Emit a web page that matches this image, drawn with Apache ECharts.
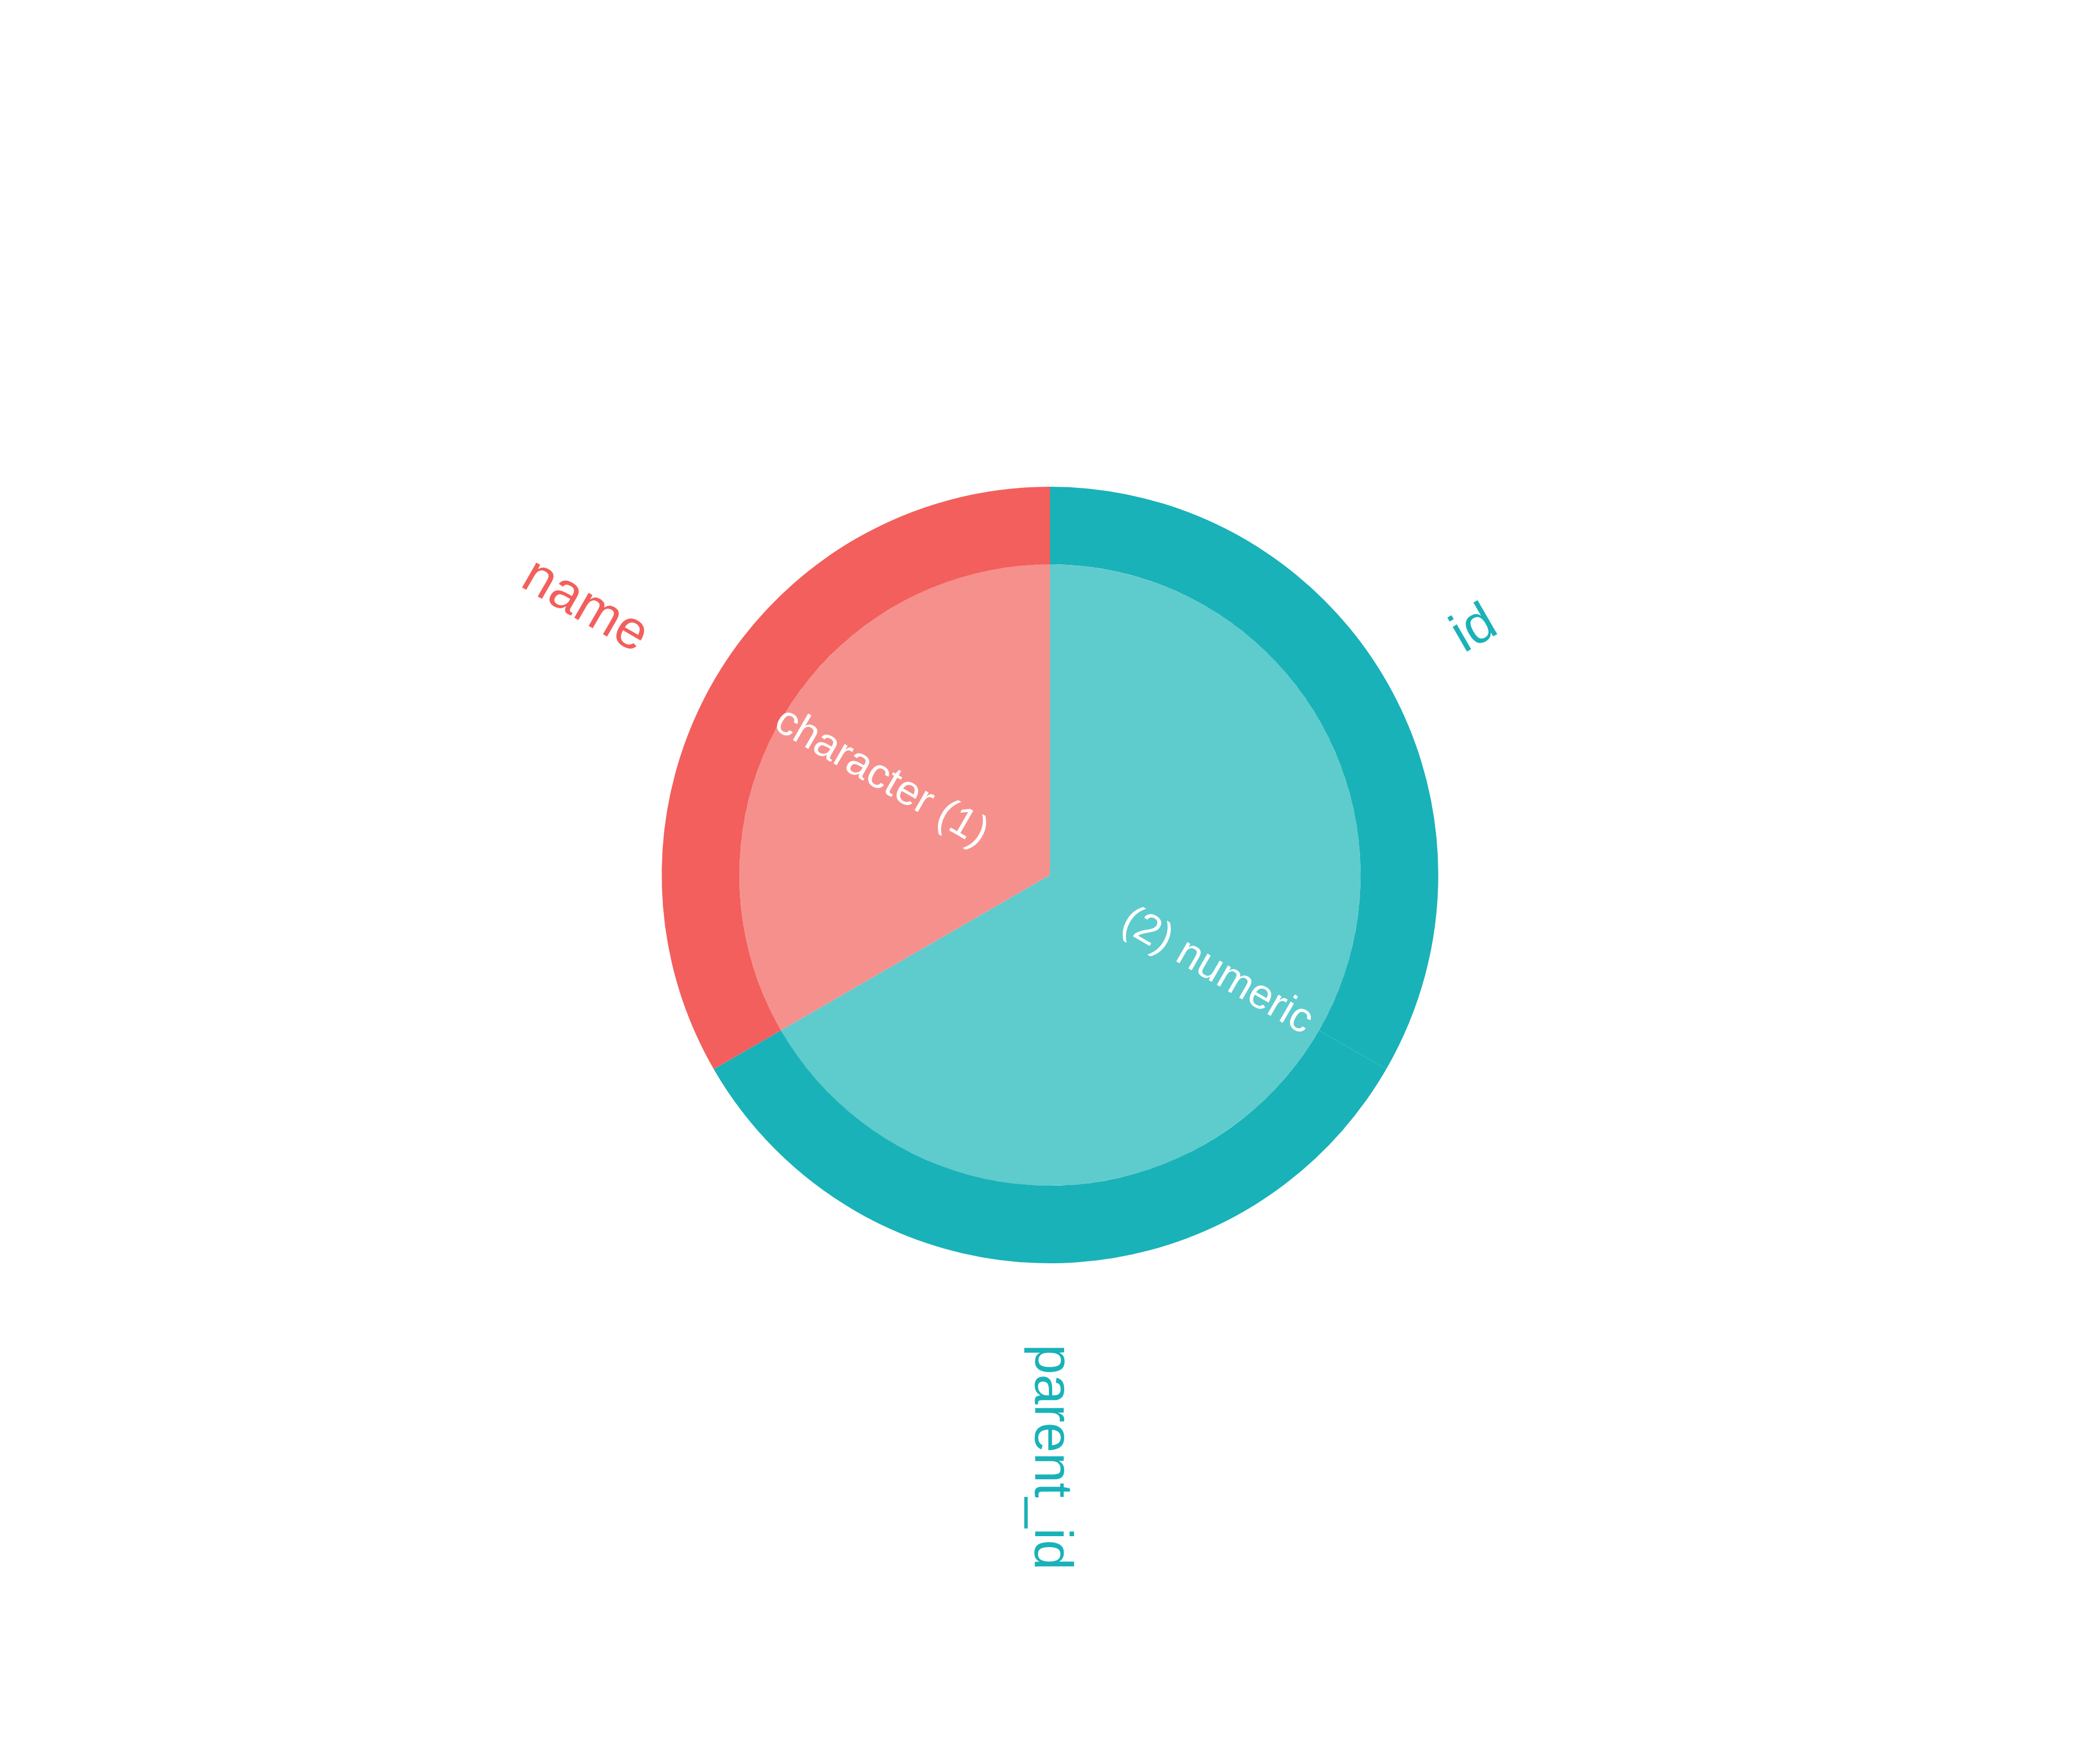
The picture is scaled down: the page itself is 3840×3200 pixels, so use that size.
<!DOCTYPE html>
<html><head><meta charset="utf-8">
<script src="https://cdn.jsdelivr.net/npm/echarts@6/dist/echarts.min.js"></script>
<style>html,body{margin:0;padding:0;background:#fff}#c{width:3840px;height:3200px}</style>
</head><body><div id="c"></div>
<script>
const groups = ['(2) numeric', 'character (1)'];
const groupColors = ['#5ECBCD', '#F6908C'];
const outerColors = ['#19B2B8', '#F25F5C'];
const groupLabelDistance = [158, 138];
const children = [['id', 'parent_id'], ['name']];
const childValues = [[1, 1], [1]];

const data = groups.map((g, i) => ({
  name: g,
  itemStyle: { color: groupColors[i] },
  label: { color: '#ffffff', align: 'left', distance: groupLabelDistance[i] },
  children: children[i].map((c, j) => ({
    name: c,
    value: childValues[i][j],
    itemStyle: { color: outerColors[i] },
    label: { color: outerColors[i] }
  }))
}));

const chart = echarts.init(document.getElementById('c'));
chart.setOption({
  animation: false,
  series: [{
    type: 'sunburst',
    center: ['50%', '50%'],
    sort: null,
    startAngle: 90,
    nodeClick: false,
    emphasis: { disabled: true },
    itemStyle: { borderWidth: 0 },
    data: data,
    levels: [
      {},
      { r0: 0, r: 568, label: { rotate: 'radial', fontSize: 77, fontFamily: 'Liberation Sans', color: '#fff' } },
      { r0: 568, r: 710, label: { position: 'outside', distance: 148, rotate: 'radial', fontSize: 99, fontFamily: 'Liberation Sans' } }
    ]
  }]
});
</script></body></html>
